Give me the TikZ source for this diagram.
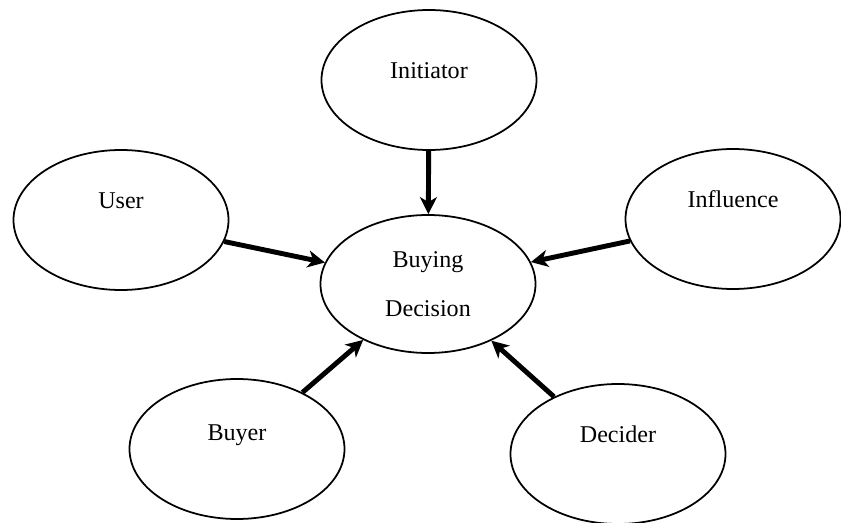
\documentclass[tikz,border=0pt]{standalone}
\usepackage{fontspec}
\setmainfont{Liberation Serif}
\usetikzlibrary{arrows.meta,shapes.geometric}
\tikzset{
  role/.style={ellipse,draw=black,line width=1pt,minimum width=4.3cm,minimum height=2.8cm,font=\fontsize{13.7}{16}\selectfont,text height=0.35cm,text depth=0.83cm},
  core/.style={ellipse,draw=black,line width=1pt,minimum width=4.3cm,minimum height=2.76cm,align=center,font=\fontsize{13.7}{28}\selectfont},
  rolepath/.style={-{Stealth[length=3.4mm,width=3.4mm,inset=1mm]},line width=2.8pt}
}

\begin{document}
\begin{tikzpicture}[x=1cm,y=1cm]
\useasboundingbox (0,0) rectangle (16.82,10.44);

\node[core] (decision) at (8.56,4.76) {Buying\\Decision};
\node[role,text depth=0.4cm] (initiator) at (8.58,8.84) {Initiator};
\node[role] (user) at (2.42,6.04) {User};
\node[role] (influence) at (14.66,6.06) {Influence};
\node[role,text depth=0.7cm] (buyer) at (4.74,1.46) {Buyer};
\node[role] (decider) at (12.36,1.36) {Decider};

\draw[rolepath](initiator)--(decision);
\draw[rolepath](user)--(decision);
\draw[rolepath](influence)--(decision);
\draw[rolepath](buyer)--(decision);
\draw[rolepath](decider)--(decision);
\end{tikzpicture}
\end{document}
